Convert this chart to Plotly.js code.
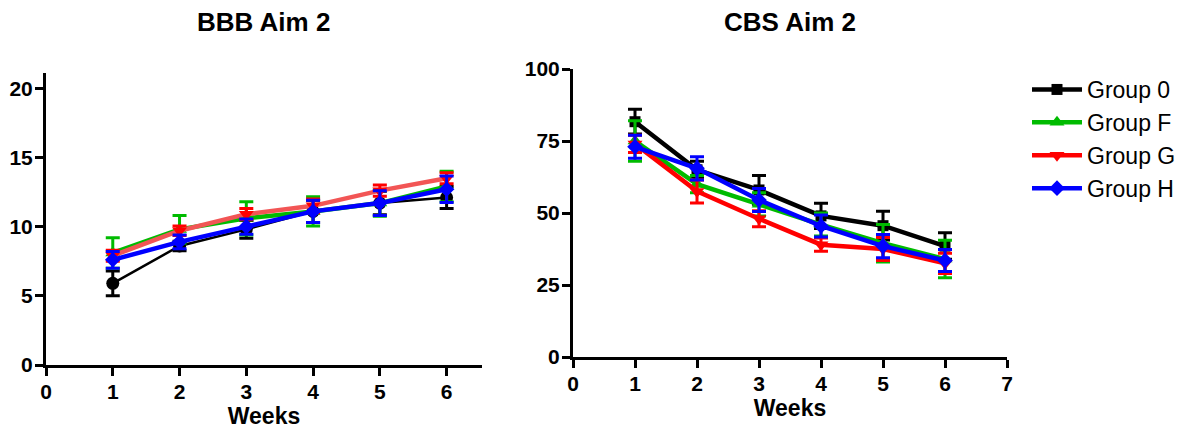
<!DOCTYPE html>
<html>
<head>
<meta charset="utf-8">
<script src="https://cdn.plot.ly/plotly-3.0.1.min.js"></script>
<style>
html,body{margin:0;padding:0;background:#fff;}
#chart{width:1179px;height:431px;}
</style>
</head>
<body>
<div id="chart"></div>
<script>
// ---- data ----
const weeks = [1, 2, 3, 4, 5, 6];
const groupNames = ["Group 0", "Group F", "Group G", "Group H"];

// BBB Aim 2 (mean, SEM)
const bbb0 = [5.9, 8.6, 9.8, 11.1, 11.7, 12.1];
const bbb0Err = [0.9, 0.35, 0.65, 0.8, 0.85, 0.8];
const bbbF = [8.1, 9.8, 10.6, 11.1, 11.7, 12.9];
const bbbFErr = [1.1, 1.0, 1.2, 1.05, 0.95, 1.1];
const bbbG = [7.9, 9.7, 10.9, 11.5, 12.6, 13.5];
const bbbGErr = [0.4, 0.35, 0.4, 0.5, 0.4, 0.4];
const bbbH = [7.6, 8.9, 10.0, 11.1, 11.7, 12.7];
const bbbHErr = [0.6, 0.5, 0.55, 0.8, 0.9, 0.95];

// CBS Aim 2 (mean, SEM)
const cbs0 = [81.7, 65.0, 58.0, 49.0, 45.6, 38.5];
const cbs0Err = [4.3, 3.0, 5.0, 4.4, 5.0, 4.6];
const cbsF = [75.0, 60.0, 53.0, 46.0, 39.5, 34.0];
const cbsFErr = [7.0, 3.0, 4.0, 4.0, 6.5, 6.5];
const cbsG = [74.0, 57.5, 48.0, 39.0, 37.5, 32.5];
const cbsGErr = [3.0, 4.0, 2.8, 2.3, 4.0, 3.5];
const cbsH = [73.0, 65.5, 54.5, 45.5, 38.5, 33.5];
const cbsHErr = [4.0, 4.0, 4.0, 3.8, 4.0, 3.8];

const xTicks = [0, 1, 2, 3, 4, 5, 6, 7];
const bbbYTicks = [0, 5, 10, 15, 20];
const cbsYTicks = [0, 25, 50, 75, 100];

// ---- styles ----
const colors = ["#000000", "#00bb00", "#ff0000", "#0000ff"];
const FONT = "Liberation Sans, Arial, sans-serif";

function tr(y, err, i, xa, ya, opts) {
  return {
    x: weeks, y: y, type: "scatter", mode: "lines+markers",
    name: groupNames[i], xaxis: xa, yaxis: ya,
    showlegend: opts.legend,
    line: {color: opts.lineColor || colors[i], width: opts.width},
    marker: {color: colors[i], symbol: opts.symbol, size: opts.size},
    error_y: {type: "data", array: err, visible: true, color: colors[i], thickness: 3, width: 7}
  };
}

const data = [
  tr(bbb0, bbb0Err, 0, "x", "y", {legend: false, symbol: "circle", size: 13, width: 2.5}),
  tr(bbbF, bbbFErr, 1, "x", "y", {legend: false, symbol: "triangle-up", size: 13, width: 4.5}),
  tr(bbbG, bbbGErr, 2, "x", "y", {legend: false, symbol: "triangle-down", size: 13, width: 4.5, lineColor: "#f25555"}),
  tr(bbbH, bbbHErr, 3, "x", "y", {legend: false, symbol: "diamond", size: 12, width: 4.5}),
  tr(cbs0, cbs0Err, 0, "x2", "y2", {legend: true, symbol: "square", size: 11, width: 4.5}),
  tr(cbsF, cbsFErr, 1, "x2", "y2", {legend: true, symbol: "triangle-up", size: 13, width: 4.5}),
  tr(cbsG, cbsGErr, 2, "x2", "y2", {legend: true, symbol: "triangle-down", size: 13, width: 4.5}),
  tr(cbsH, cbsHErr, 3, "x2", "y2", {legend: true, symbol: "diamond", size: 12, width: 4.5})
];

const W = 1179, H = 431;
function axisCommon() {
  return {
    showline: true, linecolor: "#000", linewidth: 3,
    ticks: "outside", ticklen: 8, tickwidth: 3, tickcolor: "#000",
    showgrid: false, zeroline: false, mirror: false,
    tickfont: {family: FONT, size: 21, color: "#000", weight: "bold"},
    ticklabelstandoff: -2,
    fixedrange: true
  };
}

const layout = {
  width: W, height: H,
  margin: {l: 0, r: 0, t: 0, b: 0, autoexpand: false},
  paper_bgcolor: "#fff", plot_bgcolor: "#fff",
  showlegend: true,
  legend: {
    x: 1027 / W, y: 1 - 68 / H, xanchor: "left", yanchor: "top",
    font: {family: FONT, size: 23, color: "#000"},
    bgcolor: "rgba(0,0,0,0)", tracegroupgap: 0, itemwidth: 50
  },
  xaxis: Object.assign(axisCommon(), {
    domain: [46 / W, 482 / W], range: [0, 6.53],
    tickvals: xTicks.slice(0, 7), anchor: "y",
    title: {text: "Weeks", font: {family: FONT, size: 23, color: "#000", weight: "bold"}, standoff: 6}
  }),
  yaxis: Object.assign(axisCommon(), {
    domain: [(H - 365) / H, (H - 73) / H], range: [0, 21.1],
    tickvals: bbbYTicks, anchor: "x"
  }),
  xaxis2: Object.assign(axisCommon(), {
    domain: [573 / W, 1007 / W], range: [0, 7],
    tickvals: xTicks, anchor: "y2",
    title: {text: "Weeks", font: {family: FONT, size: 23, color: "#000", weight: "bold"}, standoff: 6}
  }),
  yaxis2: Object.assign(axisCommon(), {
    domain: [(H - 357) / H, (H - 69) / H], range: [0, 100],
    tickvals: cbsYTicks, anchor: "x2"
  }),
  annotations: [
    {text: "BBB Aim 2", x: 263 / W, y: 1 - 22 / H, xref: "paper", yref: "paper",
     xanchor: "center", yanchor: "middle", showarrow: false,
     font: {family: FONT, size: 26, color: "#000", weight: "bold"}},
    {text: "CBS Aim 2", x: 790 / W, y: 1 - 22 / H, xref: "paper", yref: "paper",
     xanchor: "center", yanchor: "middle", showarrow: false,
     font: {family: FONT, size: 26, color: "#000", weight: "bold"}}
  ]
};

Plotly.newPlot("chart", data, layout, {displayModeBar: false, staticPlot: true});
</script>
</body>
</html>
